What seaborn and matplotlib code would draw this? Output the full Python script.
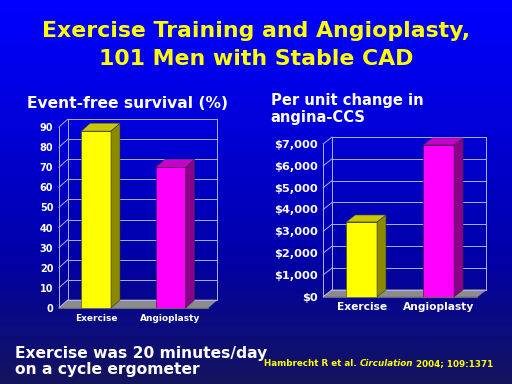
import numpy as np
import pandas as pd
import matplotlib
matplotlib.use("Agg")
import matplotlib.pyplot as plt
from matplotlib.patches import Polygon
from matplotlib.colors import LinearSegmentedColormap
import seaborn as sns

# ---- data ----
categories = ["Exercise", "Angioplasty"]
survival_pct = [88, 70]
cost_per_ccs = [3429, 6956]
bar_colors = ["#ffff00", "#ff00ff"]
side_colors = ["#8a8a00", "#8a008a"]
top_colors = ["#c8c800", "#c800c8"]

title = "Exercise Training and Angioplasty,\n101 Men with Stable CAD"
left_title = "Event-free survival (%)"
right_title = "Per unit change in\nangina-CCS"
footnote = "Exercise was 20 minutes/day\non a cycle ergometer"

sns.set_theme(style="white")
plt.rcParams["font.family"] = ["DejaVu Sans"]

fig = plt.figure(figsize=(5.12, 3.84), dpi=100)

# background gradient
bg = fig.add_axes([0, 0, 1, 1], zorder=-10)
cmap = LinearSegmentedColormap.from_list("bg", ["#0000ff", "#0000d8", "#0000a8", "#14145e"])
grad = np.linspace(0, 1, 256).reshape(-1, 1)
bg.imshow(grad, aspect="auto", cmap=cmap, extent=[0, 1, 0, 1])
bg.set_axis_off()


def bar3d(ax, values, ymax, ticks, fmt, dx_px=9, dy_px=8, tick_fs=7.5, cat_fs=7.0):
    df = pd.DataFrame({"cat": categories, "val": values})
    sns.barplot(data=df, x="cat", y="val", hue="cat", palette=bar_colors,
                width=0.4, ax=ax, legend=False, saturation=1, zorder=5)
    ax.set_xlim(-0.5, 1.5)
    ax.set_ylim(0, ymax)
    ax.set_facecolor("none")
    for s in ax.spines.values():
        s.set_visible(False)
    ax.set_xlabel("")
    ax.set_ylabel("")
    ax.set_yticks(ticks)
    ax.set_yticklabels([fmt(t) for t in ticks], color="white", fontweight="bold", fontsize=tick_fs)
    ax.set_xticks(range(len(categories)))
    ax.set_xticklabels(categories, color="white", fontweight="bold", fontsize=cat_fs)
    ax.tick_params(axis="both", length=0, pad=4)

    fig.canvas.draw()
    bb = ax.get_window_extent()
    dx = dx_px / bb.width * 2.0
    dy = dy_px / bb.height * ymax
    x0, x1 = -0.5, 1.5
    grid_c = "#b0b0ff"
    # floor
    ax.add_patch(Polygon([(x0, 0), (x1, 0), (x1 + dx, dy), (x0 + dx, dy)],
                         closed=True, fc="#8c8c8c", ec="#8c8c8c", lw=0.5, zorder=1, clip_on=False))
    # back wall grid + left wall diagonals
    for t in ticks:
        ax.plot([x0 + dx, x1 + dx], [t + dy, t + dy], color=grid_c, lw=0.7, zorder=2, clip_on=False)
        ax.plot([x0, x0 + dx], [t, t + dy], color=grid_c, lw=0.7, zorder=2, clip_on=False)
    ax.plot([x0, x0], [0, ymax], color=grid_c, lw=0.7, zorder=2, clip_on=False)
    ax.plot([x0 + dx, x0 + dx], [dy, ymax + dy], color=grid_c, lw=0.7, zorder=2, clip_on=False)
    ax.plot([x1 + dx, x1 + dx], [dy, ymax + dy], color=grid_c, lw=0.7, zorder=2, clip_on=False)
    ax.plot([x0, x1], [0, 0], color="#6a6a6a", lw=0.8, zorder=3, clip_on=False)
    # bar sides and tops
    for i, p in enumerate(ax.patches[:len(categories)]):
        bx, bw, bh = p.get_x(), p.get_width(), p.get_height()
        p.set_edgecolor("#444400" if i == 0 else "#440044")
        p.set_linewidth(0.4)
        ax.add_patch(Polygon([(bx + bw, 0), (bx + bw + dx, dy), (bx + bw + dx, bh + dy), (bx + bw, bh)],
                             closed=True, fc=side_colors[i], ec="#333333", lw=0.4, zorder=5, clip_on=False))
        ax.add_patch(Polygon([(bx, bh), (bx + bw, bh), (bx + bw + dx, bh + dy), (bx + dx, bh + dy)],
                             closed=True, fc=top_colors[i], ec="#333333", lw=0.4, zorder=5, clip_on=False))


ax1 = fig.add_axes([0.115, 0.198, 0.291, 0.471])
bar3d(ax1, survival_pct, 90, list(range(0, 91, 10)), lambda t: f"{t}",
      dx_px=9, dy_px=8, tick_fs=7, cat_fs=6.5)

ax2 = fig.add_axes([0.631, 0.227, 0.301, 0.398])
bar3d(ax2, cost_per_ccs, 7000, list(range(0, 7001, 1000)), lambda t: f"${t:,}",
      dx_px=9, dy_px=7, tick_fs=8.2, cat_fs=7.7)

# texts
fig.text(0.5, 0.883, title, ha="center", va="center", color="#ffff00",
         fontsize=15.8, fontweight="bold", linespacing=1.45)
fig.text(0.053, 0.731, left_title, ha="left", va="center", color="white",
         fontsize=11.2, fontweight="bold")
fig.text(0.529, 0.716, right_title, ha="left", va="center", color="white",
         fontsize=10.6, fontweight="bold", linespacing=1.2)
fig.text(0.03, 0.058, footnote, ha="left", va="center", color="white",
         fontsize=11.2, fontweight="bold", linespacing=1.05)

cy = 0.047
cfs = 6.3
t1 = fig.text(0.516, cy, "Hambrecht R et al. ", ha="left", va="baseline",
              color="#ffff00", fontsize=cfs, fontweight="bold")
t2 = fig.text(0, 0, "Circulation", color="#ffff00", fontsize=cfs, fontweight="bold",
              style="italic", va="baseline", ha="left")
t3 = fig.text(0, 0, " 2004; 109:1371", color="#ffff00", fontsize=cfs, fontweight="bold",
              va="baseline", ha="left")
fig.canvas.draw()
r = fig.canvas.get_renderer()
inv = fig.transFigure.inverted()
e1 = t1.get_window_extent(r)
t2.set_position((inv.transform((e1.x1, 0))[0], cy))
fig.canvas.draw()
e2 = t2.get_window_extent(r)
t3.set_position((inv.transform((e2.x1, 0))[0], cy))

fig.savefig("out.png", dpi=100)
